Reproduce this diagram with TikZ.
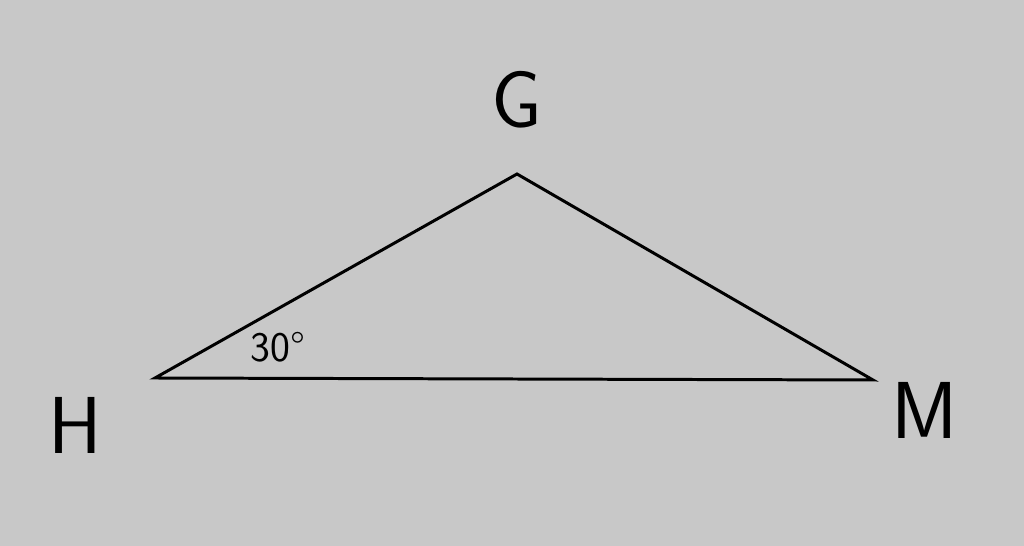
\documentclass[tikz,border=0pt]{standalone}
\usepackage{fontspec}
\setmainfont{DejaVu Sans}
\usepackage{xcolor}
\usetikzlibrary{positioning, calc}
\definecolor{paper}{HTML}{C8C8C8}
\tikzstyle{side} = [line width=1.7pt, black]
\tikzstyle{vertex} = [font=\fontsize{46}{50}\selectfont\sffamily, inner sep=0pt]
\tikzstyle{anglelabel} = [font=\fontsize{24}{28}\selectfont\sffamily, inner sep=0pt]

\begin{document}
\begin{tikzpicture}[x=0.02cm, y=-0.02cm]
    \fill [paper] (0,0) rectangle (1024,546);
    \useasboundingbox (0,0) rectangle (1024,546);
    \coordinate (H) at (155,378);
    \coordinate (G) at (517,174);
    \coordinate (M) at (873,380);

    \node (labelG) [vertex] at (517,100) {G};
    \node (labelH) [vertex] at (75,425) {H};
    \node (labelM) [vertex] at (925,410) {M};
    \node (angleH) [anglelabel] at (278,347) {30°};

    \draw [side] (H) -- (G) -- (M) -- cycle;
\end{tikzpicture}
\end{document}
